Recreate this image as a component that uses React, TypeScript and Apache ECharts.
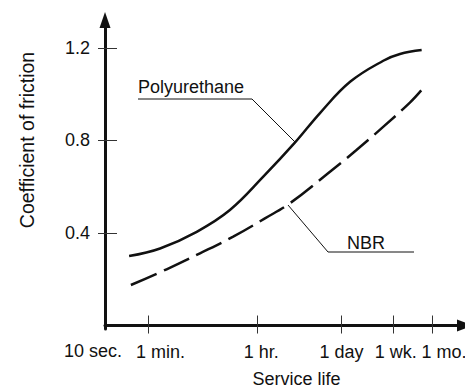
import React, { useEffect, useRef } from "react";
import * as echarts from "echarts";

// Service life in seconds (log axis) and coefficient of friction
const polyX = [29, 93, 370, 1290, 4530, 15000, 38300, 119000, 415000, 778000, 1760000];
const polyY = [0.300, 0.333, 0.405, 0.499, 0.643, 0.791, 0.918, 1.053, 1.144, 1.173, 1.190];

const nbrX = [31, 119, 418, 1460, 4820, 12300, 47900, 148000, 413000, 1130000, 1750000];
const nbrY = [0.175, 0.243, 0.312, 0.384, 0.463, 0.528, 0.650, 0.756, 0.858, 0.963, 1.017];

const xTickValues = [60, 3600, 86400, 604800, 2592000];
const xTickLabels = ["1 min.", "1 hr.", "1 day", "1 wk.", "1 mo."];
const originLabel = "10 sec.";
const yTickValues = [0.4, 0.8, 1.2];

const seriesNames = ["Polyurethane", "NBR"];
const xTitle = "Service life";
const yTitle = "Coefficient of friction";

const FONT = "'Liberation Sans', Arial, Helvetica, sans-serif";
const INK = "#111";
const labelShift = [24, 8, 0, 5, 24];

export default function App() {
  const ref = useRef<HTMLDivElement>(null);
  useEffect(() => {
    if (!ref.current) return;
    const chart = echarts.init(ref.current, undefined, { renderer: "svg" });
    const rich: Record<string, any> = {};
    xTickLabels.forEach((_, i) => {
      rich["a" + i] = {
        fontSize: 18,
        fontFamily: FONT,
        color: INK,
        padding: [0, 0, 0, labelShift[i]],
      };
    });
    const nearest = (v: number) => {
      let best = 0;
      let bd = Infinity;
      xTickValues.forEach((t, i) => {
        const d = Math.abs(Math.log10(v) - Math.log10(t));
        if (d < bd) {
          bd = d;
          best = i;
        }
      });
      return best;
    };
    const xMin = 11.7;
    const xMax = 9e6;
    const yMin = -0.015;
    const yMax = 1.32;
    chart.setOption({
      animation: false,
      backgroundColor: "#fff",
      grid: { left: 105, right: 0, top: 20, bottom: 61, containLabel: false, outerBoundsMode: "none" },
      xAxis: [
        {
          type: "log",
          logBase: 10,
          min: xMin,
          max: xMax,
          position: "bottom",
          axisLine: {
            show: true,
            symbol: ["none", "triangle"],
            symbolSize: [12, 16],
            lineStyle: { color: INK, width: 3 },
          },
          axisTick: {
            show: true,
            customValues: xTickValues,
            inside: false,
            length: 8,
            lineStyle: { color: "#333", width: 1 },
          },
          minorTick: { show: false },
          axisLabel: {
            show: true,
            customValues: xTickValues,
            margin: 14,
            fontSize: 18,
            fontFamily: FONT,
            color: INK,
            hideOverlap: false,
            formatter: (v: number) => {
              const i = nearest(v);
              return "{a" + i + "|" + xTickLabels[i] + "}";
            },
            rich,
          },
          splitLine: { show: false },
          name: xTitle,
          nameLocation: "middle",
          nameGap: 41,
          nameTextStyle: {
            fontSize: 18,
            fontFamily: FONT,
            color: INK,
            padding: [0, 0, 0, 23],
          },
        },
        {
          type: "log",
          logBase: 10,
          min: xMin,
          max: xMax,
          position: "bottom",
          offset: 0,
          axisLine: { show: false },
          axisTick: {
            show: true,
            customValues: xTickValues,
            inside: true,
            length: 10,
            lineStyle: { color: "#333", width: 1 },
          },
          axisLabel: { show: false },
          splitLine: { show: false },
        },
      ],
      yAxis: [
        {
          type: "value",
          min: yMin,
          max: yMax,
          position: "left",
          axisLine: {
            show: true,
            symbol: ["none", "triangle"],
            symbolSize: [11, 16],
            lineStyle: { color: INK, width: 3 },
          },
          axisTick: {
            show: true,
            customValues: yTickValues,
            inside: false,
            length: 7,
            lineStyle: { color: "#333", width: 1 },
          },
          axisLabel: {
            show: true,
            customValues: yTickValues,
            margin: 15,
            fontSize: 18,
            fontFamily: FONT,
            color: INK,
            formatter: (v: number) => v.toFixed(1),
          },
          splitLine: { show: false },
          name: yTitle,
          nameLocation: "middle",
          nameRotate: 90,
          nameGap: 68,
          nameTextStyle: {
            fontSize: 19.5,
            fontFamily: FONT,
            color: INK,
            padding: [0, 0, 0, 69],
          },
        },
        {
          type: "value",
          min: yMin,
          max: yMax,
          position: "left",
          offset: 0,
          axisLine: { show: false },
          axisTick: {
            show: true,
            customValues: yTickValues,
            inside: true,
            length: 12,
            lineStyle: { color: "#333", width: 1 },
          },
          axisLabel: { show: false },
          splitLine: { show: false },
        },
      ],
      series: [
        {
          name: seriesNames[0],
          type: "line",
          xAxisIndex: 0,
          yAxisIndex: 0,
          data: polyX.map((x, i) => [x, polyY[i]]),
          showSymbol: false,
          smooth: 0.4,
          lineStyle: { color: INK, width: 2.5 },
          silent: true,
        },
        {
          name: seriesNames[1],
          type: "line",
          xAxisIndex: 0,
          yAxisIndex: 0,
          data: nbrX.map((x, i) => [x, nbrY[i]]),
          showSymbol: false,
          smooth: 0.4,
          lineStyle: { color: INK, width: 2.5, type: [28, 8] },
          silent: true,
        },
      ],
      graphic: [
        {
          type: "polyline",
          shape: { points: [[138, 99], [252, 99], [295, 142]] },
          style: { stroke: INK, lineWidth: 1, fill: null },
          silent: true,
        },
        {
          type: "text",
          x: 138,
          y: 87,
          style: {
            text: seriesNames[0],
            fontSize: 18,
            fontFamily: FONT,
            fill: INK,
            align: "left",
            verticalAlign: "middle",
          },
          silent: true,
        },
        {
          type: "polyline",
          shape: { points: [[288, 205], [328, 252], [414, 252]] },
          style: { stroke: INK, lineWidth: 1, fill: null },
          silent: true,
        },
        {
          type: "text",
          x: 347,
          y: 243,
          style: {
            text: seriesNames[1],
            fontSize: 18,
            fontFamily: FONT,
            fill: INK,
            align: "left",
            verticalAlign: "middle",
          },
          silent: true,
        },
        {
          type: "text",
          x: 93,
          y: 351,
          style: {
            text: originLabel,
            fontSize: 18,
            fontFamily: FONT,
            fill: INK,
            align: "center",
            verticalAlign: "middle",
          },
          silent: true,
        },
      ],
    });
    return () => chart.dispose();
  }, []);
  return (
    <div
      ref={ref}
      style={{ position: "fixed", left: 0, top: 0, width: 465, height: 390, background: "#fff" }}
    />
  );
}
